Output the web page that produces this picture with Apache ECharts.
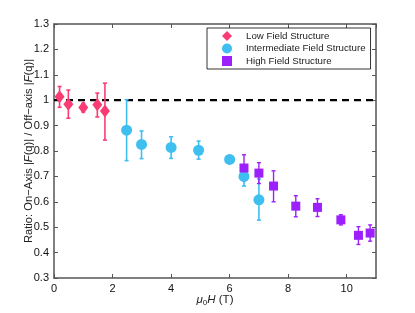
<!DOCTYPE html>
<html><head><meta charset="utf-8">
<script src="https://cdn.jsdelivr.net/npm/echarts@6/dist/echarts.min.js"></script>
<style>html,body{margin:0;padding:0;background:#fff}#c{width:415px;height:313px}</style>
</head><body><div id="c"></div>
<script>
// Low field structure
const lowX   = [0.19, 0.49, 1.00, 1.48, 1.74];
const lowY   = [1.014, 0.984, 0.971, 0.982, 0.957];
const lowLo  = [0.972, 0.929, 0.954, 0.934, 0.843];
const lowHi  = [1.054, 1.040, 0.988, 1.028, 1.067];
// Intermediate field structure
const midX   = [2.48, 2.99, 4.00, 4.94, 6.00, 6.49, 7.00];
const midY   = [0.882, 0.826, 0.814, 0.803, 0.767, 0.700, 0.608];
const midLo  = [0.762, 0.770, 0.771, 0.768, 0.762, 0.662, 0.528];
const midHi  = [1.002, 0.879, 0.856, 0.839, 0.772, 0.740, 0.690];
// High field structure
const highX  = [6.49, 7.00, 7.50, 8.26, 9.00, 9.80, 10.40, 10.80];
const highY  = [0.733, 0.713, 0.662, 0.583, 0.578, 0.529, 0.468, 0.477];
const highLo = [0.683, 0.672, 0.600, 0.541, 0.542, 0.509, 0.432, 0.445];
const highHi = [0.785, 0.754, 0.722, 0.624, 0.612, 0.549, 0.502, 0.509];

const names = ['Low Field Structure', 'Intermediate Field Structure', 'High Field Structure'];
const colors = ['#fb3c74', '#3ebff0', '#9b20fb'];
const xTicks = [0, 2, 4, 6, 8, 10];

const FONT = 'Liberation Sans, Arial, sans-serif';
function pts(xs, ys) { return xs.map((x, i) => [x, ys[i]]); }
function errs(xs, lo, hi) { return xs.map((x, i) => [x, lo[i], hi[i]]); }
function errSeries(data, color, lw) {
  return {
    type: 'custom', silent: true, z: 2,
    data: data,
    encode: { x: 0, y: [1, 2] },
    renderItem: function (params, api) {
      const x = api.value(0);
      const a = api.coord([x, api.value(1)]);
      const b = api.coord([x, api.value(2)]);
      const cw = 2;
      const st = { stroke: color, lineWidth: lw };
      return { type: 'group', children: [
        { type: 'line', shape: { x1: a[0], y1: a[1], x2: b[0], y2: b[1] }, style: st },
        { type: 'line', shape: { x1: a[0] - cw, y1: a[1], x2: a[0] + cw, y2: a[1] }, style: st },
        { type: 'line', shape: { x1: b[0] - cw, y1: b[1], x2: b[0] + cw, y2: b[1] }, style: st }
      ]};
    }
  };
}

const chart = echarts.init(document.getElementById('c'), null, { renderer: 'canvas' });
const axisCol = '#555';
const lineCommon = { onZero: false, lineStyle: { color: axisCol, width: 1.5 } };
const tickCommon = { show: true, inside: true, length: 4, lineStyle: { color: axisCol } };
chart.setOption({
  animation: false,
  textStyle: { fontFamily: FONT },
  grid: { left: 54, right: 39, top: 24, bottom: 35 },
  legend: {
    data: names, orient: 'vertical', left: 207, top: 28,
    itemWidth: 10, itemHeight: 10, itemGap: 2.5,
    padding: [3, 5, 3, 15],
    borderColor: '#000', borderWidth: 0.8, backgroundColor: '#fff',
    textStyle: { fontFamily: FONT, fontSize: 9.7, color: '#222', padding: [0, 0, 0, 9] }
  },
  xAxis: [{
    type: 'value', min: 0, max: 11, interval: 2,
    name: '{i|μ}{s|0}{i|H} (T)', nameLocation: 'middle', nameGap: 15, nameMoveOverlap: false,
    nameTextStyle: { fontFamily: FONT, fontSize: 11.5, color: '#222',
      rich: { i: { fontStyle: 'italic', fontSize: 11.5, fontFamily: FONT, color: '#222' },
              s: { fontSize: 8, fontFamily: FONT, color: '#222', padding: [6, 0, 0, 0] } } },
    axisLine: lineCommon,
    axisTick: tickCommon,
    axisLabel: { fontSize: 11, color: '#111', margin: 5, showMaxLabel: false,
      formatter: v => xTicks.indexOf(v) >= 0 ? String(v) : '' },
    splitLine: { show: false }
  }, {
    type: 'value', min: 0, max: 11, interval: 2, position: 'top',
    axisLine: lineCommon, axisTick: tickCommon,
    axisLabel: { show: false }, splitLine: { show: false }
  }],
  yAxis: [{
    type: 'value', min: 0.3, max: 1.3, interval: 0.1,
    name: 'Ratio: On\u2212Axis |{i|F}(q)| / Off\u2212axis |{i|F}(q)|',
    nameLocation: 'middle', nameGap: 20, nameMoveOverlap: false,
    nameTextStyle: { fontFamily: FONT, fontSize: 11.2, color: '#222',
      rich: { i: { fontStyle: 'italic', fontSize: 11.2, fontFamily: FONT, color: '#222' } } },
    axisLine: Object.assign({ show: true }, lineCommon),
    axisTick: tickCommon,
    axisLabel: { fontSize: 11, color: '#111', margin: 5,
      formatter: v => String(Math.round(v * 10) / 10) },
    splitLine: { show: false }
  }, {
    type: 'value', min: 0.3, max: 1.3, interval: 0.1, position: 'right',
    axisLine: Object.assign({ show: true }, lineCommon), axisTick: tickCommon,
    axisLabel: { show: false }, splitLine: { show: false }
  }],
  series: [
    { type: 'line', data: [[0, 1], [11, 1]], symbol: 'none', silent: true, z: 1,
      lineStyle: { color: '#000', width: 2.2, type: [7, 5] } },
    errSeries(errs(lowX, lowLo, lowHi), colors[0], 1.6),
    { name: names[0], type: 'scatter', data: pts(lowX, lowY), symbol: 'diamond',
      symbolSize: [10, 13], itemStyle: { color: colors[0], opacity: 1 }, z: 3 },
    errSeries(errs(midX, midLo, midHi), colors[1], 1.6),
    { name: names[1], type: 'scatter', data: pts(midX, midY), symbol: 'circle',
      symbolSize: 11, itemStyle: { color: colors[1], opacity: 1 }, z: 3 },
    errSeries(errs(highX, highLo, highHi), colors[2], 1.4),
    { name: names[2], type: 'scatter', data: pts(highX, highY), symbol: 'rect',
      symbolSize: 9, itemStyle: { color: colors[2], opacity: 1 }, z: 4 }
  ]
});
</script></body></html>
